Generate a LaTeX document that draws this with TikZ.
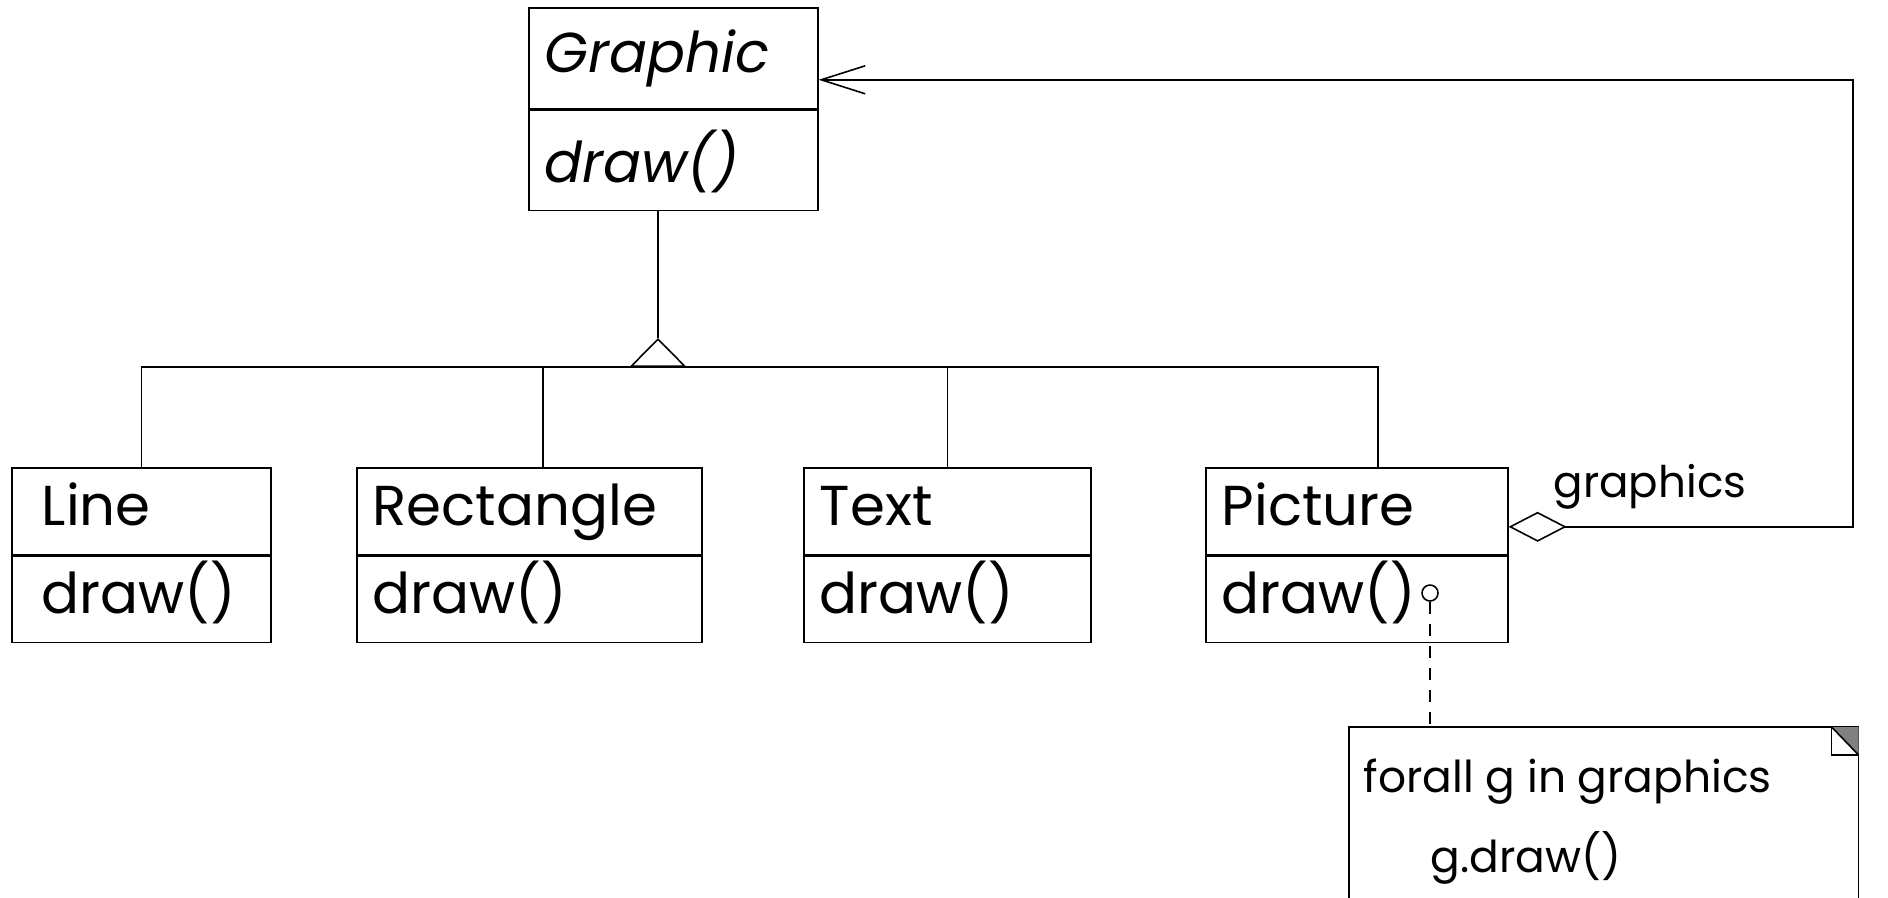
\documentclass[tikz,border=0pt]{standalone}
\usepackage{fontspec}
\setmainfont{Poppins}
\usetikzlibrary{arrows.meta}
\tikzset{
	classhead/.style = {draw, rectangle, anchor=north west, align=left,
		inner xsep=0.16cm, inner ysep=0pt, text height=0.42cm, text depth=0.13cm,
		font=\fontsize{16}{19}\selectfont},
	classbody/.style = {classhead, text height=0.42cm, text depth=0.14cm},
	rolename/.style  = {anchor=base west, inner sep=0pt, font=\fontsize{12.4}{15}\selectfont},
	notetext/.style  = {anchor=base west, inner sep=0pt, font=\fontsize{12.5}{15}\selectfont},
	pin/.style       = {draw, circle, inner sep=0pt, minimum size=0.16cm},
	input/.style     = {coordinate}
}
\newcommand{\op}{draw()}

\begin{document}
\begin{tikzpicture}[line width=0.45pt, >=Straight Barb, line join=miter]
		\useasboundingbox (0,0) rectangle (18.88,-8.97);

		% abstract base class
		\node at (5.28,-0.07) [classhead, text width=2.57cm, minimum height=1.01cm] (graphic) {\itshape Graphic};
		\node at (graphic.south west) [classbody, text height=0.50cm, text depth=0.06cm,
			text width=2.57cm, minimum height=1.00cm] (graphic-ops) {\itshape \op};

		% subclasses
		\node at (0.11,-4.67) [classhead, inner xsep=0.30cm, text width=1.99cm, minimum height=0.87cm] (line) {Line};
		\node at (line.south west) [classbody, inner xsep=0.30cm, text width=1.99cm, minimum height=0.86cm] (line-ops) {\op};
		\node at (3.56,-4.67) [classhead, text width=3.13cm, minimum height=0.87cm] (rect) {Rectangle};
		\node at (rect.south west) [classbody, text width=3.13cm, minimum height=0.86cm] (rect-ops) {\op};
		\node at (8.03,-4.67) [classhead, text width=2.55cm, minimum height=0.87cm] (text) {Text};
		\node at (text.south west) [classbody, text width=2.55cm, minimum height=0.86cm] (text-ops) {\op};
		\node at (12.05,-4.67) [classhead, text width=2.70cm, minimum height=0.87cm] (picture) {Picture};
		\node at (picture.south west) [classbody, text width=2.70cm, minimum height=0.86cm] (picture-ops) {\op};

		% inheritance tree
		\coordinate (bus) at (6.58,-3.67);
		\coordinate (apex) at (6.58,-3.38);
		\draw (graphic-ops.south -| apex) -- (apex);
		\draw[-{Triangle[open, length=0.29cm, width=0.57cm]}] (bus) -- (apex);
		\draw (bus) -| (line.north);
		\draw (bus) -| ([xshift=1.87cm]rect.north west);
		\draw (bus) -| (text.north);
		\draw (bus) -| ([xshift=1.73cm]picture.north west);

		% aggregation back to the base class
		\coordinate (turn) at (18.53,-3);
		\node at (15.53,-4.97) [rolename] (role) {graphics};
		\draw[{Diamond[open, length=0.58cm, width=0.30cm]}->, >={Straight Barb[length=0.44cm, width=0.28cm]}]
			([yshift=-0.155cm]picture.east) -| (turn) |- ([yshift=-0.215cm]graphic.east);

		% note attached to Picture::draw()
		\node at (14.30,-5.93) [pin] (pin) {};
		\node at (13.49,-7.27) [anchor=north west, minimum width=5.08cm, minimum height=2.5cm, inner sep=0pt] (note) {};
		\draw[dash pattern=on 0.12cm off 0.10cm] (pin) -- (pin |- note.north);
		\draw (note.south west) rectangle (note.north east);
		\fill[gray] (note.north east) -- ++(-0.27,0) -- ++(0.27,-0.28) -- cycle;
		\draw (note.north east) ++(-0.27,0) -- ++(0,-0.28) -- ++(0.27,0);
		\draw (note.north east) ++(-0.27,0) -- ++(0.27,-0.28);
		\node at (13.63,-7.92) [notetext] (note-l1) {forall g in graphics};
		\node at (14.30,-8.72) [notetext] (note-l2) {g.draw()};

	\end{tikzpicture}
\end{document}
